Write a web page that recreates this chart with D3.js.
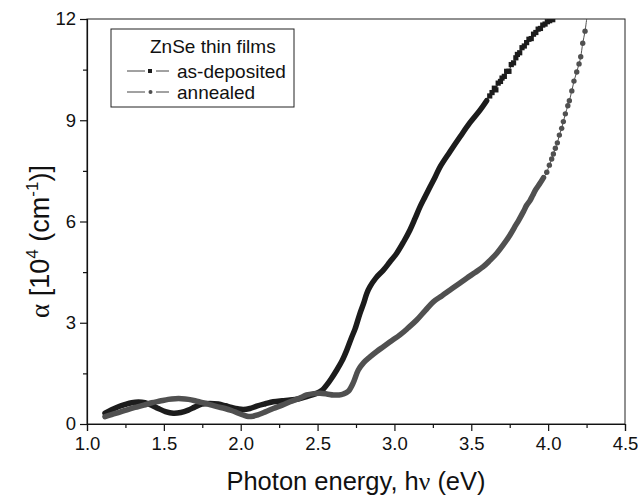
<!DOCTYPE html>
<html>
<head>
<meta charset="utf-8">
<script src="https://cdn.jsdelivr.net/npm/d3@7"></script>
<style>
  body { margin: 0; background: #fff; }
  svg { display: block; font-family: "Liberation Sans", Arial, sans-serif; }
</style>
</head>
<body>
<div id="chart"></div>
<script>
// as-deposited film (black squares)
const depEnergy = [1.117, 1.16, 1.204, 1.25, 1.291, 1.335, 1.377, 1.42, 1.464, 1.51, 1.561, 1.61, 1.659, 1.70, 1.746, 1.80, 1.854, 1.90, 1.941, 1.98, 2.017, 2.06, 2.104, 2.16, 2.212, 2.27, 2.321, 2.38, 2.429, 2.494, 2.53, 2.560, 2.59, 2.625, 2.66, 2.690, 2.72, 2.744, 2.776, 2.80, 2.820, 2.841, 2.88, 2.928, 2.97, 3.015, 3.06, 3.101, 3.135, 3.167, 3.20, 3.232, 3.265, 3.297, 3.36, 3.427, 3.49, 3.557, 3.60,
  3.62, 3.635, 3.65, 3.66, 3.675, 3.69, 3.70, 3.715, 3.73, 3.745, 3.76, 3.775, 3.79, 3.80, 3.815, 3.83, 3.845, 3.86, 3.875, 3.89, 3.905, 3.92, 3.935, 3.95, 3.965, 3.98, 3.995, 4.01, 4.03];
const depAlpha = [0.32, 0.42, 0.51, 0.58, 0.63, 0.65, 0.63, 0.56, 0.46, 0.37, 0.32, 0.34, 0.41, 0.50, 0.59, 0.61, 0.59, 0.54, 0.49, 0.45, 0.43, 0.46, 0.53, 0.60, 0.66, 0.69, 0.71, 0.75, 0.81, 0.91, 1.00, 1.16, 1.35, 1.60, 1.88, 2.19, 2.55, 2.82, 3.28, 3.58, 3.87, 4.07, 4.33, 4.56, 4.80, 5.06, 5.40, 5.75, 6.10, 6.44, 6.74, 7.03, 7.32, 7.62, 8.06, 8.51, 8.92, 9.30, 9.58,
  9.72, 9.82, 9.95, 9.90, 10.10, 10.15, 10.25, 10.30, 10.45, 10.45, 10.65, 10.70, 10.85, 10.95, 11.00, 11.15, 11.20, 11.30, 11.40, 11.42, 11.55, 11.60, 11.70, 11.72, 11.82, 11.85, 11.92, 11.95, 11.98];

// annealed film (grey circles)
const annEnergy = [1.117, 1.16, 1.204, 1.26, 1.312, 1.37, 1.421, 1.475, 1.529, 1.575, 1.616, 1.66, 1.703, 1.745, 1.789, 1.84, 1.898, 1.94, 1.984, 2.02, 2.05, 2.08, 2.104, 2.16, 2.212, 2.27, 2.321, 2.38, 2.429, 2.475, 2.516, 2.56, 2.603, 2.64, 2.668, 2.70, 2.73, 2.765, 2.80, 2.841, 2.885, 2.928, 2.98, 3.036, 3.09, 3.145, 3.20, 3.253, 3.31, 3.362, 3.415, 3.470, 3.525, 3.578, 3.62, 3.666, 3.71, 3.752, 3.78, 3.81, 3.84, 3.86, 3.882, 3.90, 3.92, 3.947, 3.97,
  3.991, 4.008, 4.023, 4.034, 4.047, 4.060, 4.073, 4.088, 4.099, 4.112, 4.128, 4.138, 4.154, 4.168, 4.186, 4.201, 4.212, 4.225, 4.240, 4.252];
const annAlpha = [0.22, 0.28, 0.34, 0.42, 0.49, 0.56, 0.63, 0.68, 0.73, 0.75, 0.75, 0.73, 0.69, 0.64, 0.59, 0.52, 0.46, 0.40, 0.32, 0.26, 0.22, 0.23, 0.26, 0.36, 0.46, 0.56, 0.66, 0.76, 0.86, 0.90, 0.91, 0.89, 0.86, 0.86, 0.89, 0.97, 1.20, 1.60, 1.82, 1.99, 2.15, 2.29, 2.46, 2.64, 2.85, 3.08, 3.36, 3.62, 3.80, 3.97, 4.14, 4.32, 4.49, 4.66, 4.84, 5.06, 5.32, 5.60, 5.82, 6.05, 6.30, 6.48, 6.62, 6.78, 6.95, 7.13, 7.30,
  7.46, 7.67, 7.85, 8.00, 8.17, 8.33, 8.56, 8.76, 8.96, 9.19, 9.43, 9.58, 9.87, 10.16, 10.43, 10.67, 10.88, 11.28, 11.64, 12.05];

const xTicks = [1.0, 1.5, 2.0, 2.5, 3.0, 3.5, 4.0, 4.5];
const xMinor = [1.25, 1.75, 2.25, 2.75, 3.25, 3.75, 4.25];
const yTicks = [0, 3, 6, 9, 12];
const yMinor = [1.5, 4.5, 7.5, 10.5];

const legendTitle = 'ZnSe thin films';
const seriesNames = ['as-deposited', 'annealed'];

const W = 638, H = 498;
const margin = { top: 19, right: 13, bottom: 74, left: 87 };
const width = W - margin.left - margin.right;
const height = H - margin.top - margin.bottom;

const svg = d3.select('#chart').append('svg')
  .attr('width', W)
  .attr('height', H);

const g = svg.append('g')
  .attr('transform', `translate(${margin.left},${margin.top})`);

const x = d3.scaleLinear().domain([1.0, 4.5]).range([0, width]);
const y = d3.scaleLinear().domain([0, 12]).range([height, 0]);

g.append('clipPath').attr('id', 'plot-clip')
  .append('rect').attr('width', width).attr('height', height);

// frame
g.append('rect')
  .attr('width', width)
  .attr('height', height)
  .attr('fill', 'none')
  .attr('stroke', '#222')
  .attr('stroke-width', 1);

// axes
g.append('g')
  .attr('transform', `translate(0,${height})`)
  .call(d3.axisBottom(x).tickValues(xTicks).tickFormat(d3.format('.1f')).tickSizeOuter(0).tickSize(7).tickPadding(6))
  .call((a) => a.selectAll('text').attr('font-size', 18.5).attr('fill', '#111'));
g.append('g')
  .attr('transform', `translate(0,${height})`)
  .call(d3.axisBottom(x).tickValues(xMinor).tickFormat('').tickSizeOuter(0).tickSize(4))
  .call((a) => a.select('.domain').remove());

g.append('g')
  .call(d3.axisLeft(y).tickValues(yTicks).tickSizeOuter(0).tickSize(7).tickPadding(4))
  .call((a) => a.selectAll('text').attr('font-size', 18.5).attr('fill', '#111'));
g.append('g')
  .call(d3.axisLeft(y).tickValues(yMinor).tickFormat('').tickSizeOuter(0).tickSize(4))
  .call((a) => a.select('.domain').remove());

g.selectAll('.domain, .tick line').attr('stroke', '#111').attr('stroke-width', 1.2);

// series
function drawSeries(energy, alpha, color, denseUntil, shape) {
  const pts = energy.map((e, i) => ({ e, a: alpha[i] }));
  const line = d3.line()
    .x((d) => x(d.e))
    .y((d) => y(d.a))
    .curve(d3.curveCatmullRom);
  const layer = g.append('g').attr('clip-path', 'url(#plot-clip)');

  layer.append('path')
    .datum(pts)
    .attr('fill', 'none')
    .attr('stroke', color)
    .attr('stroke-width', 1)
    .attr('d', line);

  layer.append('path')
    .datum(pts.filter((d) => d.e <= denseUntil))
    .attr('fill', 'none')
    .attr('stroke', color)
    .attr('stroke-width', 5.5)
    .attr('stroke-linejoin', 'round')
    .attr('stroke-linecap', 'round')
    .attr('d', line);

  const marks = pts.filter((d) => d.e > denseUntil && d.a <= 12);
  if (shape === 'square') {
    layer.selectAll(null).data(marks).enter().append('rect')
      .attr('x', (d) => x(d.e) - 2.6)
      .attr('y', (d) => y(d.a) - 2.6)
      .attr('width', 5.2)
      .attr('height', 5.2)
      .attr('fill', color);
  } else {
    layer.selectAll(null).data(marks).enter().append('circle')
      .attr('cx', (d) => x(d.e))
      .attr('cy', (d) => y(d.a))
      .attr('r', 2.7)
      .attr('fill', color);
  }
}

drawSeries(depEnergy, depAlpha, '#1c1c1c', 3.6, 'square');
drawSeries(annEnergy, annAlpha, '#505050', 3.98, 'circle');

// axis titles
const xt = svg.append('text')
  .attr('x', margin.left + width / 2)
  .attr('y', 490)
  .attr('text-anchor', 'middle')
  .attr('font-size', 25.5)
  .attr('fill', '#111');
xt.append('tspan').text('Photon energy, h');
xt.append('tspan').attr('font-family', '"Liberation Serif", serif').text('ν');
xt.append('tspan').text(' (eV)');

const yt = svg.append('text')
  .attr('transform', `translate(49,${margin.top + height / 2 + 20}) rotate(-90)`)
  .attr('text-anchor', 'middle')
  .attr('font-size', 27)
  .attr('fill', '#111');
yt.append('tspan').attr('font-family', '"Liberation Serif", serif').text('α');
yt.append('tspan').text(' [10');
yt.append('tspan').attr('font-size', 17).attr('dy', -11).text('4');
yt.append('tspan').attr('dy', 11).text(' (cm');
yt.append('tspan').attr('font-size', 17).attr('dy', -11).text('-1');
yt.append('tspan').attr('dy', 11).text(')]');

// legend
const legend = svg.append('g');
legend.append('rect')
  .attr('x', 111).attr('y', 29)
  .attr('width', 183).attr('height', 78)
  .attr('fill', '#fff')
  .attr('stroke', '#222')
  .attr('stroke-width', 1);
legend.append('text')
  .attr('x', 150).attr('y', 53)
  .attr('font-size', 19)
  .attr('fill', '#111')
  .text(legendTitle);

const legendColors = ['#1c1c1c', '#505050'];
seriesNames.forEach((name, i) => {
  const cy = 71 + i * 21;
  const item = legend.append('g');
  item.append('line').attr('x1', 127).attr('x2', 145).attr('y1', cy).attr('y2', cy)
    .attr('stroke', '#444').attr('stroke-width', 1);
  item.append('line').attr('x1', 156).attr('x2', 169).attr('y1', cy).attr('y2', cy)
    .attr('stroke', '#444').attr('stroke-width', 1);
  if (i === 0) {
    item.append('rect').attr('x', 148).attr('y', cy - 2).attr('width', 4).attr('height', 4)
      .attr('fill', legendColors[i]);
  } else {
    item.append('circle').attr('cx', 150.5).attr('cy', cy).attr('r', 2)
      .attr('fill', legendColors[i]);
  }
  item.append('text')
    .attr('x', 177).attr('y', cy + 6.5)
    .attr('font-size', 19)
    .attr('fill', '#111')
    .text(name);
});
</script>
</body>
</html>
